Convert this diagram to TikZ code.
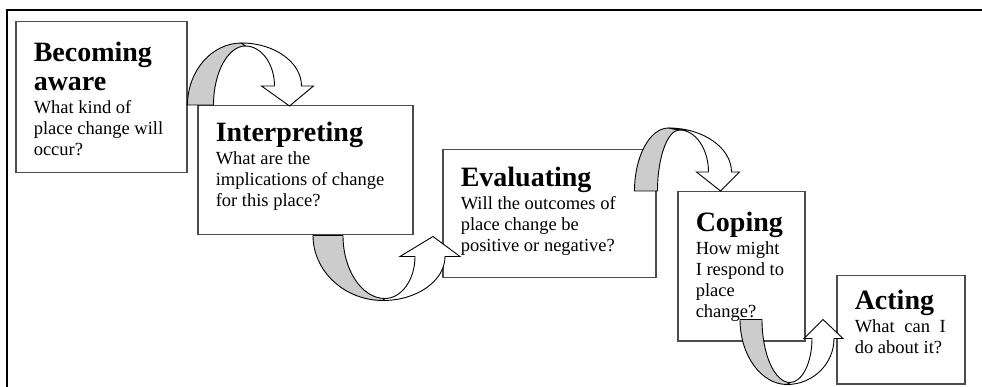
\documentclass[tikz,border=0pt]{standalone}
\usepackage{fontspec}
\setmainfont{Liberation Serif}
\usepackage{tikz}
\usetikzlibrary{calc}
\usetikzlibrary{positioning}
\usepackage{xcolor}
\definecolor{boxGrey}{rgb}{0.3,0.3,0.3}
\definecolor{backGrey}{rgb}{0.8,0.8,0.8}

\newcommand{\headfont}{\fontsize{28}{29.5}\selectfont\bfseries}
\newcommand{\bodyfont}{\fontsize{18.5}{21}\selectfont}
% width, height, top skip, heading, question
\newcommand{\stage}[5]{%
    \begin{minipage}[c][#2][t]{#1}\raggedright
        \vspace*{#3}%
        {\headfont #4\par}%
        \vspace{2pt}%
        {\bodyfont #5\par}%
    \end{minipage}}
% twisted u-turn arrow, from the points p1 p2 ap tw wo wi rw tip lw
\newcommand{\twistarrow}{%
    \draw [backSide] (p1) .. controls ($(p1)!0.55!(p1|-ap)$) and ($(ap)!0.55!(p1|-ap)$) .. (ap)
        -- (tw) .. controls ($(tw)!0.55!(p2|-tw)$) and ($(p2)!0.55!(p2|-tw)$) .. (p2) -- cycle;
    \draw [frontSide] (ap) .. controls ($(ap)!0.55!(wo|-ap)$) and ($(wo)!0.55!(wo|-ap)$) .. (wo)
        -- (rw) -- (tip) -- (lw) -- (wi)
        .. controls ($(wi)!0.55!(wi|-tw)$) and ($(tw)!0.55!(wi|-tw)$) .. (tw) -- cycle;
}

\begin{document}
\begin{tikzpicture}[x=1pt, y=-1pt,
        stageBox/.style={draw=boxGrey, line width=1.5pt, fill=white, anchor=north west,
            inner xsep=18pt, inner ysep=0pt},
        backSide/.style={fill=backGrey, draw=black, line width=0.9pt, line join=round},
        frontSide/.style={fill=white, draw=black, line width=0.9pt, line join=miter},
        frameLine/.style={draw=black, line width=2.5pt}]
    \useasboundingbox (0,0) rectangle (982,387);
    \draw [frameLine] (7,387) -- (7,10) -- (982,10);

    \node [stageBox] (aware) at (15,21) {\stage{135pt}{151pt}{20pt}{Becoming\\aware}
        {What kind of\\place change will\\occur?}};
    \node [stageBox] (interp) at (197,105) {\stage{179pt}{129pt}{16pt}{Interpreting}
        {What are the\\implications of change\\for this place?}};
    \node [stageBox] (eval) at (442,149) {\stage{177pt}{128pt}{17pt}{Evaluating}
        {Will the outcomes of\\place change be\\positive or negative?}};
    \node [stageBox] (coping) at (677,191) {\stage{91pt}{149pt}{20pt}{Coping}
        {How might\\I respond to\\place\\change?}};
    \node [stageBox] (acting) at (836,275) {\stage{92pt}{108pt}{14pt}{Acting}
        {\makebox[91pt][s]{What can I}\\do about it?}};

    % over the top: aware -> interp
    \begin{scope}[shift={(aware.east |- interp.north)}]
        \coordinate (p1) at (0,0);   \coordinate (p2) at (26,0);
        \coordinate (ap) at (54,-62); \coordinate (tw) at (58,-59);
        \coordinate (wo) at (114,-19); \coordinate (wi) at (87,-19);
        \coordinate (rw) at (126,-19); \coordinate (lw) at (74,-19);
        \coordinate (tip) at (102,1);
        \twistarrow
    \end{scope}
    % underneath: interp -> eval
    \begin{scope}[shift={($(interp.south west)+(116,0)$)}, yscale=-1]
        \coordinate (p1) at (0,0);   \coordinate (p2) at (30,0);
        \coordinate (ap) at (70,-65); \coordinate (tw) at (72,-63);
        \coordinate (wo) at (132,-21); \coordinate (wi) at (102,-21);
        \coordinate (rw) at (147,-21); \coordinate (lw) at (87,-21);
        \coordinate (tip) at (120,-1);
        \twistarrow
    \end{scope}
    % over the top: eval -> coping
    \begin{scope}[shift={($(eval.east |- coping.north)+(-22,0)$)}]
        \coordinate (p1) at (0,0);   \coordinate (p2) at (23,0);
        \coordinate (ap) at (34,-63); \coordinate (tw) at (45,-61);
        \coordinate (wo) at (97,-19); \coordinate (wi) at (74,-19);
        \coordinate (rw) at (105,-19); \coordinate (lw) at (62,-19);
        \coordinate (tip) at (86,0);
        \twistarrow
    \end{scope}
    % underneath: coping -> acting
    \begin{scope}[shift={($(coping.south west)+(63,-22)$)}, yscale=-1]
        \coordinate (p1) at (0,0);   \coordinate (p2) at (22,0);
        \coordinate (ap) at (47,-65); \coordinate (tw) at (50,-63);
        \coordinate (wo) at (94,-19); \coordinate (wi) at (72,-19);
        \coordinate (rw) at (103,-19); \coordinate (lw) at (64,-19);
        \coordinate (tip) at (83,0);
        \twistarrow
    \end{scope}
\end{tikzpicture}
\end{document}
